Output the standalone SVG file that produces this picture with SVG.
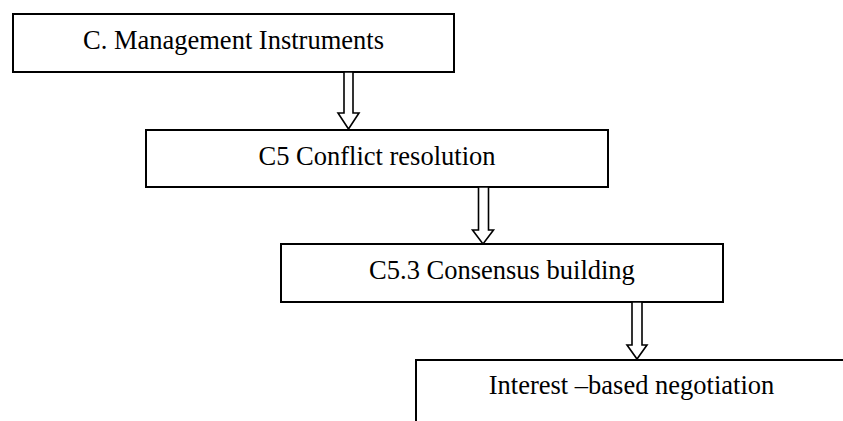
<svg xmlns="http://www.w3.org/2000/svg" width="843" height="421" viewBox="0 0 843 421">
<style>
.box{fill:#fff;stroke:#000;stroke-width:2}
.arr{fill:#fff;stroke:#000;stroke-width:1.6;stroke-linejoin:miter}
.t{font-family:"Liberation Serif","Times New Roman",serif;font-size:26.5px;fill:#000;text-anchor:middle}
</style>
<rect width="843" height="421" fill="#fff"/>
<g id="node-c">
<rect class="box" x="13" y="14" width="441" height="58"/>
<text class="t" x="233.5" y="49">C. Management Instruments</text>
</g>
<g id="node-c5">
<rect class="box" x="146" y="130" width="462" height="57"/>
<text class="t" x="377" y="165">C5 Conflict resolution</text>
</g>
<g id="node-c53">
<rect class="box" x="281" y="244" width="442" height="58"/>
<text class="t" x="502" y="279">C5.3 Consensus building</text>
</g>
<g id="node-ibn">
<rect class="box" x="416" y="360" width="440" height="80"/>
<text class="t" x="631.5" y="394">Interest –based negotiation</text>
</g>
<g id="connectors">
<polygon class="arr" points="344,72 353,72 353,113 359,113 348.5,129 338,113 344,113"/>
<polygon class="arr" points="478.5,187 488.5,187 488.5,230 493.5,230 483,244 472.5,230 478.5,230"/>
<polygon class="arr" points="632,302 642,302 642,345 647,345 637,359 627,345 632,345"/>
</g>
</svg>
